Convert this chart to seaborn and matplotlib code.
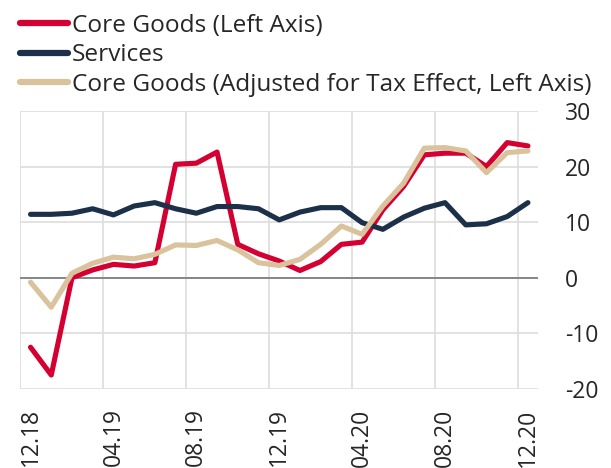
import numpy as np
import pandas as pd
import seaborn as sns
import matplotlib.pyplot as plt

months = ["12.18", "01.19", "02.19", "03.19", "04.19", "05.19", "06.19", "07.19",
          "08.19", "09.19", "10.19", "11.19", "12.19", "01.20", "02.20", "03.20",
          "04.20", "05.20", "06.20", "07.20", "08.20", "09.20", "10.20", "11.20", "12.20"]

core_goods = [-12.5, -17.5, 0.0, 1.4, 2.4, 2.1, 2.7, 20.4, 20.6, 22.6, 6.0, 4.3, 3.0,
              1.3, 2.9, 6.0, 6.4, 12.2, 16.4, 22.1, 22.4, 22.4, 20.0, 24.3, 23.7]
services = [11.4, 11.4, 11.6, 12.4, 11.3, 12.9, 13.5, 12.4, 11.6, 12.8, 12.8, 12.4, 10.4,
            11.8, 12.6, 12.6, 9.9, 8.7, 10.9, 12.5, 13.5, 9.5, 9.7, 11.0, 13.5]
core_goods_adj = [-0.8, -5.3, 0.8, 2.6, 3.7, 3.4, 4.2, 5.9, 5.8, 6.7, 5.0, 2.7, 2.2,
                  3.3, 6.0, 9.3, 7.8, 12.9, 17.0, 23.3, 23.4, 22.8, 18.9, 22.5, 22.8]
yticks = [-20, -10, 0, 10, 20, 30]

labels = ["Core Goods (Left Axis)", "Services",
          "Core Goods (Adjusted for Tax Effect, Left Axis)"]
colors = ["#D50032", "#1C3049", "#D9C29C"]

df = pd.DataFrame({
    "x": list(range(len(months))) * 3,
    "value": core_goods + services + core_goods_adj,
    "series": [labels[0]] * len(months) + [labels[1]] * len(months) + [labels[2]] * len(months),
})

sns.set_style("white")
plt.rcParams["font.family"] = ["Open Sans", "DejaVu Sans"]

fig = plt.figure(figsize=(6.11, 4.68), dpi=100)
ax = fig.add_axes([0.033, 0.169, 0.848, 0.594])

sns.lineplot(data=df, x="x", y="value", hue="series", palette=colors,
             hue_order=labels, linewidth=3.7, ax=ax, legend=False)

ax.axhline(0, color="#7f7f7f", linewidth=1.3, zorder=1)

ax.set_xlim(-0.5, len(months) - 0.5)
ax.set_ylim(-20, 30)
ax.set_xticks(range(0, len(months), 4))
ax.set_xticklabels(months[::4], rotation=90, fontsize=16.5, va="top")
ax.set_xticks(np.arange(-0.5, len(months), 4), minor=True)
ax.set_yticks(yticks)
ax.set_yticklabels([str(v) for v in yticks], fontsize=16.5)
ax.yaxis.tick_right()
ax.tick_params(axis="y", length=0, pad=19, labelright=True, labelleft=False)
ax.tick_params(axis="x", which="both", length=0, pad=14)
ax.grid(False)
ax.grid(True, axis="y", which="major", color="#dddddd", linewidth=1.2)
ax.grid(True, axis="x", which="minor", color="#dddddd", linewidth=1.2)
for s in ax.spines.values():
    s.set_visible(False)
ax.set_xlabel("")
ax.set_ylabel("")

handles = [plt.Line2D([], [], color=c, linewidth=4.5, solid_capstyle="round") for c in colors]
fig.legend(handles, labels, loc="upper left", bbox_to_anchor=(0.025, 0.981),
           frameon=False, fontsize=17.6, handlelength=1.95, handletextpad=0.17,
           labelspacing=0.22, borderpad=0.1, borderaxespad=0.1)

fig.savefig("out.png", dpi=100)
